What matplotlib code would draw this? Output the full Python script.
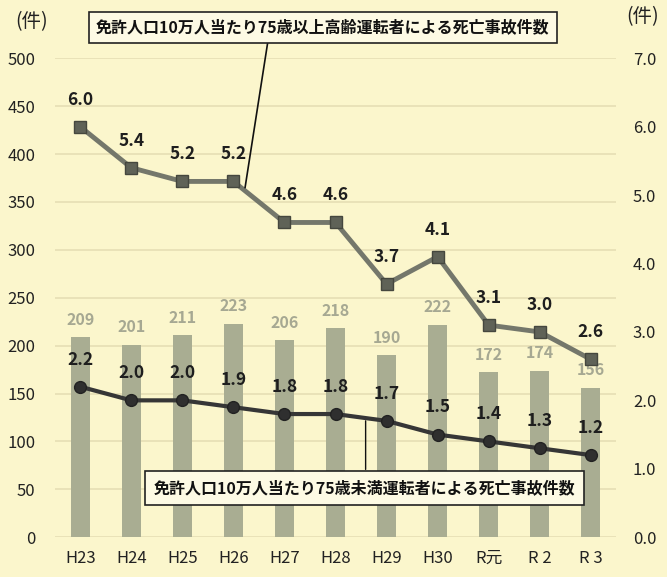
import matplotlib
matplotlib.use('Agg')
import matplotlib.pyplot as plt
import numpy as np

plt.rcParams['font.family'] = ['Noto Sans CJK JP', 'DejaVu Sans']

#data
years = ['H23', 'H24', 'H25', 'H26', 'H27', 'H28', 'H29', 'H30', 'R元', 'R 2', 'R 3']
deaths = [209, 201, 211, 223, 206, 218, 190, 222, 172, 174, 156]
rate_75_over = [6.0, 5.4, 5.2, 5.2, 4.6, 4.6, 3.7, 4.1, 3.1, 3.0, 2.6]
rate_75_under = [2.2, 2.0, 2.0, 1.9, 1.8, 1.8, 1.7, 1.5, 1.4, 1.3, 1.2]

label_over = '免許人口10万人当たり75歳以上高齢運転者による死亡事故件数'
label_under = '免許人口10万人当たり75歳未満運転者による死亡事故件数'

#colours
bg = '#fbf6cc'
bar_color = '#a9ad92'
over_color = '#74776b'
under_color = '#363636'

x = np.arange(len(years))

fig = plt.figure(figsize=(6.67, 5.77), dpi=100, facecolor=bg)
ax = fig.add_axes([0.082, 0.069, 0.842, 0.830])
ax.set_facecolor(bg)
ax2 = ax.twinx()

#bars on the left axis
ax.bar(x, deaths, width=0.38, color=bar_color, zorder=2)
for xi, v in zip(x, deaths):
	ax.annotate(str(v), (xi, v), xytext=(0, 12.5), textcoords='offset points',
		ha='center', va='center', fontsize=11.5, fontweight='bold', color='#a6a892')

ax.set_xlim(-0.5, 10.5)
ax.set_ylim(0, 500)
ax.set_yticks(np.arange(0, 501, 50))
ax.yaxis.grid(True, color='#e6dfb4', linewidth=1.2, zorder=0)
ax.set_axisbelow(True)
ax.set_xticks(x)
ax.set_xticklabels(years)
ax.tick_params(axis='x', length=0, pad=9, labelsize=12, colors='#222222')
ax.tick_params(axis='y', length=0, pad=14, labelsize=12, colors='#222222')

#lines on the right axis
ax2.plot(x, rate_75_over, color=over_color, linewidth=3.5, marker='s', markersize=8.5,
	markerfacecolor='#5f6257', markeredgecolor='#45473e', zorder=4)
ax2.plot(x, rate_75_under, color=under_color, linewidth=3, marker='o', markersize=8.5,
	markerfacecolor='#2f2f2f', markeredgecolor='#222222', zorder=4)

for xi, v in zip(x, rate_75_over):
	ax2.annotate(f'{v:.1f}', (xi, v), xytext=(0, 19.5), textcoords='offset points',
		ha='center', va='center', fontsize=12.5, fontweight='bold', color='#1e1e1e')
for xi, v in zip(x, rate_75_under):
	ax2.annotate(f'{v:.1f}', (xi, v), xytext=(0, 19.5), textcoords='offset points',
		ha='center', va='center', fontsize=12.5, fontweight='bold', color='#1e1e1e')

ax2.set_ylim(0, 7)
ax2.set_yticks(np.arange(0, 7.1, 1.0))
ax2.set_yticklabels([f'{t:.1f}' for t in np.arange(0, 7.1, 1.0)])
ax2.tick_params(axis='y', length=0, pad=12, labelsize=12, colors='#222222')

for a in (ax, ax2):
	for s in a.spines.values():
		s.set_visible(False)

#unit labels
fig.text(0.048, 0.962, '(件)', fontsize=14, ha='center', va='center', color='#222222')
fig.text(0.963, 0.972, '(件)', fontsize=14, ha='center', va='center', color='#222222')

#callout boxes
box = dict(boxstyle='square,pad=0.45', facecolor='#fdfae4', edgecolor='#222222', linewidth=1.2)

t_over = 3.22
ax2.annotate('', xy=(t_over, np.interp(t_over, x, rate_75_over)), xytext=(3.72, 7.46),
	arrowprops=dict(arrowstyle='-', color='#111111', linewidth=1.2), annotation_clip=False, zorder=6)
ax2.text(4.75, 7.45, label_over, ha='center', va='center', fontsize=11.5, fontweight='bold',
	color='#111111', bbox=box, zorder=7, clip_on=False)

t_under = 5.59
ax2.annotate('', xy=(t_under, np.interp(t_under, x, rate_75_under)), xytext=(t_under, 0.95),
	arrowprops=dict(arrowstyle='-', color='#111111', linewidth=1.0), annotation_clip=False, zorder=6)
box_under = dict(boxstyle='square,pad=0.55', facecolor='#fdfae4', edgecolor='#222222', linewidth=1.2)
ax2.text(5.57, 0.72, label_under, ha='center', va='center', fontsize=11.5, fontweight='bold',
	color='#111111', bbox=box_under, zorder=7)

plt.savefig('out.png', dpi=100, facecolor=bg)
